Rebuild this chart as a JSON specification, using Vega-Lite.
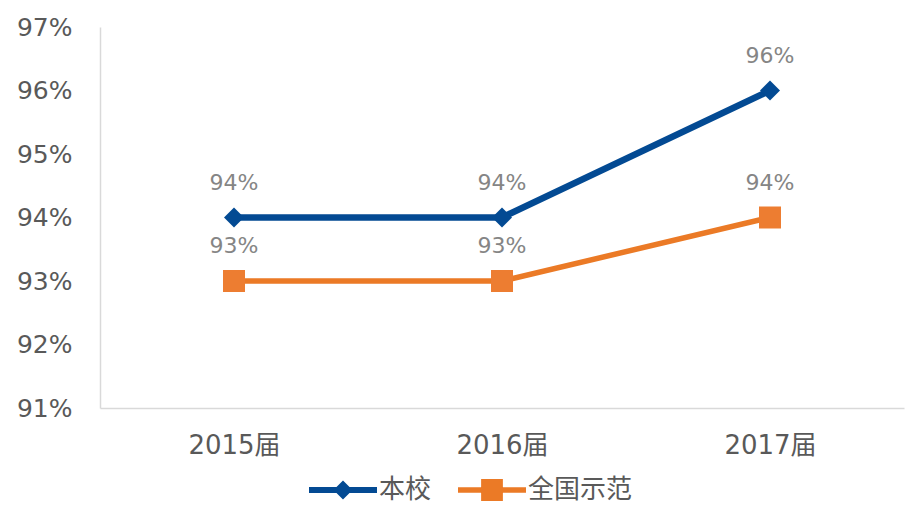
{
  "$schema": "https://vega.github.io/schema/vega-lite/v6.json",
  "width": 804,
  "height": 381,
  "autosize": {"type": "none"},
  "padding": {"left": 100, "top": 27, "right": 7, "bottom": 109},
  "background": "white",
  "config": {
    "view": {"stroke": null},
    "font": "DejaVu Sans, Noto Sans CJK SC"
  },
  "data": {
    "values": [
      {"year": "2015届", "series": "本校", "value": 0.94},
      {"year": "2016届", "series": "本校", "value": 0.94},
      {"year": "2017届", "series": "本校", "value": 0.96},
      {"year": "2015届", "series": "全国示范", "value": 0.93},
      {"year": "2016届", "series": "全国示范", "value": 0.93},
      {"year": "2017届", "series": "全国示范", "value": 0.94}
    ]
  },
  "encoding": {
    "x": {
      "field": "year",
      "type": "ordinal",
      "sort": null,
      "scale": {"type": "point", "padding": 0.5},
      "axis": {
        "title": null,
        "domainColor": "#D9D9D9",
        "domainWidth": 1.5,
        "ticks": false,
        "grid": false,
        "labelAngle": 0,
        "labelFontSize": 26,
        "labelColor": "#595959",
        "labelPadding": 24
      }
    },
    "y": {
      "field": "value",
      "type": "quantitative",
      "scale": {"domain": [0.91, 0.97], "nice": false, "zero": false},
      "axis": {
        "title": null,
        "format": ".0%",
        "values": [0.91, 0.92, 0.93, 0.94, 0.95, 0.96, 0.97],
        "domainColor": "#D9D9D9",
        "domainWidth": 1.5,
        "ticks": false,
        "grid": false,
        "labelFontSize": 25,
        "labelColor": "#595959",
        "labelPadding": 28
      }
    }
  },
  "layer": [
    {
      "mark": {"type": "line", "strokeCap": "round", "strokeJoin": "round"},
      "encoding": {
        "color": {
          "field": "series",
          "type": "nominal",
          "scale": {"domain": ["本校", "全国示范"], "range": ["#034A93", "#EB7A26"]},
          "legend": null
        },
        "strokeWidth": {
          "field": "series",
          "type": "nominal",
          "scale": {"domain": ["本校", "全国示范"], "range": [6.5, 5.5]},
          "legend": null
        }
      }
    },
    {
      "transform": [{"filter": "datum.series === '本校'"}],
      "mark": {"type": "point", "shape": "diamond", "size": 400, "filled": true, "opacity": 1, "color": "#034A93"}
    },
    {
      "transform": [{"filter": "datum.series === '全国示范'"}],
      "mark": {"type": "point", "shape": "square", "size": 484, "filled": true, "opacity": 1, "color": "#ED7D31"}
    },
    {
      "mark": {"type": "text", "dy": -35, "fontSize": 22, "color": "#858585"},
      "encoding": {
        "text": {"field": "value", "type": "quantitative", "format": ".0%"}
      }
    },
    {
      "mark": {"type": "point", "filled": true, "opacity": 0},
      "encoding": {
        "fill": {
          "field": "series",
          "type": "nominal",
          "scale": {"domain": ["本校", "全国示范"], "range": ["#034A93", "#EB7A26"]},
          "legend": {
            "title": null,
            "orient": "none",
            "direction": "horizontal",
            "legendX": 209,
            "legendY": 429,
            "symbolSize": 4624,
            "symbolType": "M-1,-0.09L1,-0.09L1,0.09L-1,0.09Z M-0.28,0L0,-0.28L0.28,0L0,0.28Z",
            "labelFontSize": 26,
            "labelColor": "#595959",
            "labelOffset": 2,
            "columnPadding": 26,
            "symbolOpacity": 1,
            "symbolStrokeWidth": 0,
            "encode": {
              "symbols": {
                "update": {
                  "shape": {"signal": "datum.value === '本校' ? 'M-1,-0.09L1,-0.09L1,0.09L-1,0.09Z M-0.28,0L0,-0.28L0.28,0L0,0.28Z' : 'M-1,-0.08L1,-0.08L1,0.08L-1,0.08Z M-0.32,-0.32L0.32,-0.32L0.32,0.32L-0.32,0.32Z'"}
                }
              }
            }
          }
        }
      }
    }
  ],
  "resolve": {"scale": {"fill": "independent"}}
}
